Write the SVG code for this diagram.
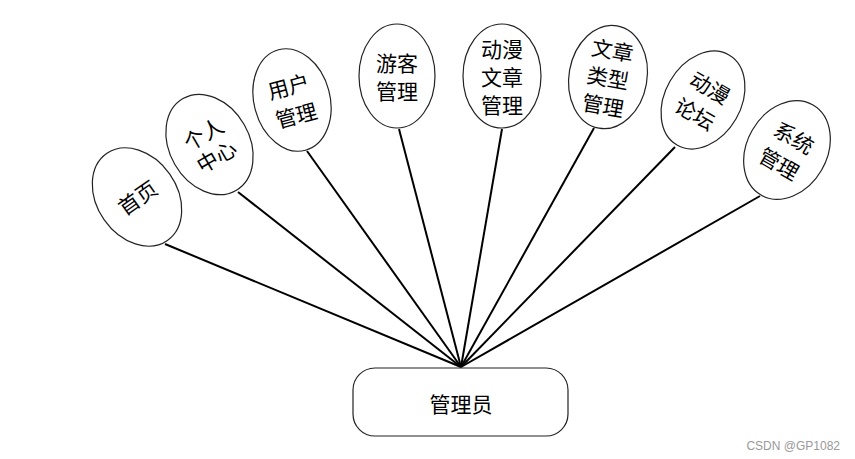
<svg xmlns="http://www.w3.org/2000/svg" width="855" height="459" viewBox="0 0 855 459">
<style>
.n ellipse{fill:#fff;stroke:#222;stroke-width:1.2}
.t{font-family:"Noto Sans CJK SC","Noto Sans",sans-serif;font-size:21px;fill:#000;text-anchor:middle;dominant-baseline:central}
.c line{stroke:#000;stroke-width:2}
</style>
<rect width="855" height="459" fill="#fff"/>
<g class="c" id="connectors">
<line x1="165" y1="244" x2="461" y2="367"/>
<line x1="238" y1="192" x2="461" y2="367"/>
<line x1="307" y1="151" x2="461" y2="367"/>
<line x1="399" y1="129" x2="461" y2="367"/>
<line x1="502" y1="129" x2="461" y2="367"/>
<line x1="594" y1="128" x2="461" y2="367"/>
<line x1="675" y1="147" x2="461" y2="367"/>
<line x1="760" y1="196" x2="461" y2="367"/>
</g>
<g id="n1" class="n" transform="translate(137,197) rotate(-35)">
<ellipse cx="0" cy="0" rx="40" ry="53"/>
<text class="t" x="0" y="0">首页</text>
</g>
<g id="n2" class="n" transform="translate(209.5,144.5) rotate(-30)">
<ellipse cx="0" cy="0" rx="40" ry="53"/>
<text class="t" x="0" y="-13">个人</text>
<text class="t" x="0" y="13">中心</text>
</g>
<g id="n3" class="n" transform="translate(292,100) rotate(-15)">
<ellipse cx="0" cy="0" rx="38" ry="52"/>
<text class="t" x="0" y="-15">用户</text>
<text class="t" x="0" y="15">管理</text>
</g>
<g id="n4" class="n" transform="translate(397,76)">
<ellipse cx="0" cy="0" rx="38" ry="52"/>
<text class="t" x="0" y="-14">游客</text>
<text class="t" x="0" y="14">管理</text>
</g>
<g id="n5" class="n" transform="translate(502,76)">
<ellipse cx="0" cy="0" rx="39" ry="52"/>
<text class="t" x="0" y="-28">动漫</text>
<text class="t" x="0" y="0">文章</text>
<text class="t" x="0" y="28">管理</text>
</g>
<g id="n6" class="n" transform="translate(608,77) rotate(10)">
<ellipse cx="0" cy="0" rx="39" ry="52"/>
<text class="t" x="0" y="-28">文章</text>
<text class="t" x="0" y="0">类型</text>
<text class="t" x="0" y="28">管理</text>
</g>
<g id="n7" class="n" transform="translate(703,100) rotate(30)">
<ellipse cx="0" cy="0" rx="38" ry="52"/>
<text class="t" x="0" y="-15">动漫</text>
<text class="t" x="0" y="15">论坛</text>
</g>
<g id="n8" class="n" transform="translate(787,150) rotate(30)">
<ellipse cx="0" cy="0" rx="40" ry="52"/>
<text class="t" x="0" y="-15">系统</text>
<text class="t" x="0" y="15">管理</text>
</g>
<g id="admin">
<rect x="353" y="368" width="215" height="68" rx="22" ry="22" fill="#fff" stroke="#222" stroke-width="1.2"/>
<text class="t" x="461" y="403">管理员</text>
</g>
<text x="840" y="446" font-family="'Liberation Sans',Arial,sans-serif" font-size="12" fill="#999" text-anchor="end" dominant-baseline="central">CSDN @GP1082</text>
</svg>
